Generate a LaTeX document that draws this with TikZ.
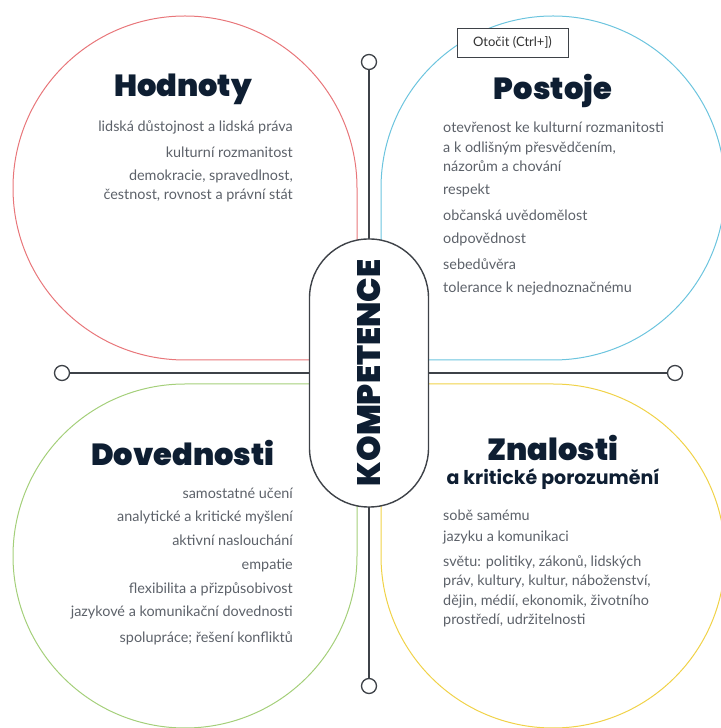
\documentclass[tikz,border=0pt]{standalone}
\usepackage{fontspec}
\usetikzlibrary{positioning}
\setmainfont{Lato}
\IfFontExistsTF{Poppins Black}{\newfontfamily\blackfont{Poppins Black}}{\IfFontExistsTF{Lato Black}{\newfontfamily\blackfont{Lato Black}}{\def\blackfont{\bfseries}}}
\IfFontExistsTF{Poppins Bold}{\newfontfamily\semifont{Poppins Bold}}{\def\semifont{\bfseries}}
\definecolor{hodred}{RGB}{232,118,122}
\definecolor{posblue}{RGB}{108,196,222}
\definecolor{dovgreen}{RGB}{164,207,122}
\definecolor{znayellow}{RGB}{240,210,72}
\definecolor{navy}{RGB}{14,30,50}
\definecolor{txtgray}{RGB}{92,97,105}
\definecolor{axgray}{RGB}{62,66,72}
\def\navy(#1){\textcolor{navy}{#1}}

\begin{document}
\begin{tikzpicture}[x=1pt,y=1pt,
  petal/.style={line width=1pt},
  axis/.style={draw=axgray,line width=1.4pt},
  knob/.style={circle,draw=axgray,line width=1.3pt,fill=white,minimum size=15pt,inner sep=0pt},
  pill/.style={draw=axgray,line width=1.4pt,fill=white,rounded corners=59pt,minimum width=268pt,minimum height=119pt,inner sep=0pt},
  head/.style={text=navy,inner sep=0pt,font=\blackfont\fontsize{30.5}{31}\selectfont},
  item/.style={text=txtgray,inner sep=0pt,font=\fontsize{14.4}{19.5}\selectfont},
  itemr/.style={item,anchor=east,align=right},
  iteml/.style={item,anchor=west,align=left}]
\useasboundingbox (0,0) rectangle (720,728);
% petals
\draw[petal,draw=hodred] (357,368) -- (185,368) arc[start angle=270,end angle=0,radius=172] -- cycle;
\draw[petal,draw=posblue] (381,368) -- (553,368) arc[start angle=-90,end angle=180,radius=172] -- cycle;
\draw[petal,draw=dovgreen] (357,344) -- (185,344) arc[start angle=90,end angle=360,radius=172] -- cycle;
\draw[petal,draw=znayellow] (381,344) -- (553,344) arc[start angle=90,end angle=-180,radius=172] -- cycle;
% cross
\node (cw) [knob] at (62,355) {};
\node (ce) [knob] at (675,355) {};
\node (cn) [knob] at (369,666) {};
\node (cs) [knob] at (369,42) {};
\draw[axis] (cw)--(ce);
\draw[axis] (cn)--(cs);
\node (komp) [pill,rotate=90] at (369,355) {\navy({\blackfont\fontsize{32.5}{34}\selectfont KOMPETENCE})};
% Hodnoty
\node (hod) [head] at (183,639) {Hodnoty};
\node (h1) [itemr] at (293,601) {lidská důstojnost a lidská práva};
\node (h2) [itemr] at (293,576) {kulturní rozmanitost};
\node (h3) [itemr] at (293,542) {demokracie, spravedlnost,\\čestnost, rovnost a právní stát};
% Postoje
\node (pos) [head] at (553,637) {Postoje};
\node (p1) [iteml] at (443,581) {otevřenost ke kulturní rozmanitosti\\a k odlišným přesvědčením,\\názorům a chování};
\node (p2) [iteml] at (443,538) {respekt};
\node (p3) [iteml] at (443,513) {občanská uvědomělost};
\node (p4) [iteml] at (443,489) {odpovědnost};
\node (p5) [iteml] at (443,464) {sebedůvěra};
\node (p6) [iteml] at (443,439) {tolerance k nejednoznačnému};
% Dovednosti
\node (dov) [head] at (183,275) {Dovednosti};
\node (d1) [itemr] at (293,235) {samostatné učení};
\node (d2) [itemr] at (293,211) {analytické a kritické myšlení};
\node (d3) [itemr] at (293,188) {aktivní naslouchání};
\node (d4) [itemr] at (293,163) {empatie};
\node (d5) [itemr] at (293,139) {flexibilita a přizpůsobivost};
\node (d6) [itemr] at (293,115) {jazykové a komunikační dovednosti};
\node (d7) [itemr] at (293,90) {spolupráce; řešení konfliktů};
% Znalosti
\node (zna) [head,anchor=base] at (553,267) {Znalosti};
\node (zsub) [text=navy,inner sep=0pt,anchor=base,font=\semifont\fontsize{19}{20}\selectfont] at (553,243) {a kritické porozumění};
\node (z1) [iteml] at (443,213) {sobě samému};
\node (z2) [iteml] at (443,190) {jazyku a komunikaci};
\node (z3) [iteml] at (443,136.5) {světu: politiky, zákonů, lidských\\práv, kultury, kultur, náboženství,\\dějin, médií, ekonomik, životního\\prostředí, udržitelnosti};
% tooltip
\node (tip) [draw=axgray,line width=0.9pt,fill=white,minimum width=111pt,minimum height=29pt,inner sep=0pt,text=black!80,font=\fontsize{13}{14}\selectfont] at (512.5,685.5) {Otočit (Ctrl+])};
\end{tikzpicture}
\end{document}
